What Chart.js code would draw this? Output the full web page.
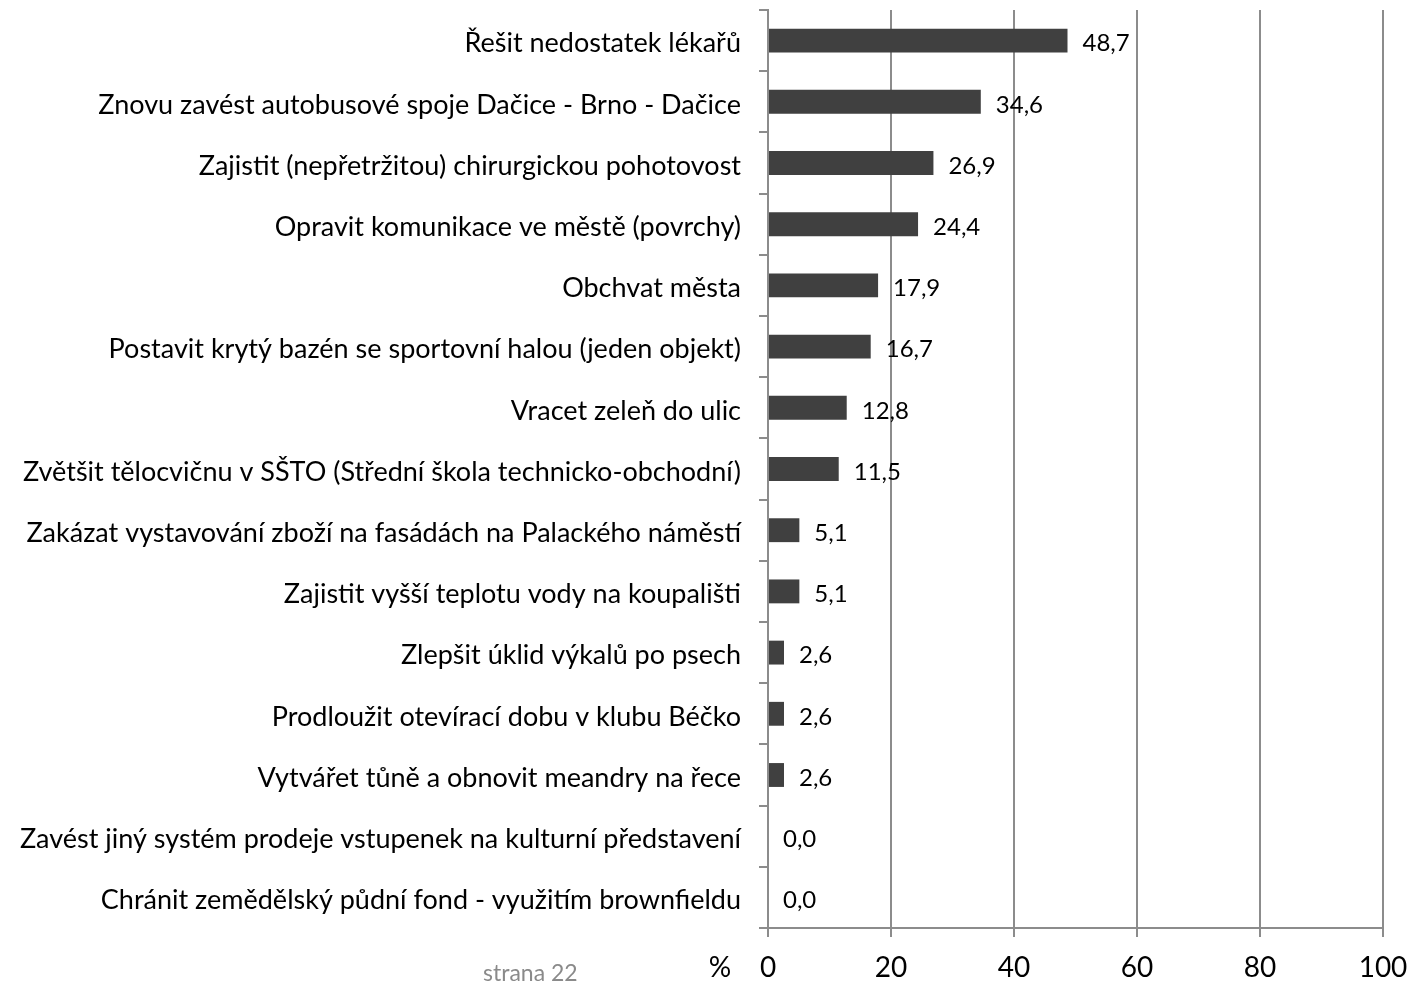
<!DOCTYPE html>
<html>
<head>
<meta charset="utf-8">
<script src="https://cdn.jsdelivr.net/npm/chart.js@4"></script>
<style>
  html, body { margin: 0; padding: 0; background: #fff; }
  #wrap { position: relative; width: 1408px; height: 988px; }
  #page { position: absolute; left: 483px; top: 958px; font: 23px Lato, sans-serif; color: #8a8a8a; }
</style>
</head>
<body>
<div id="wrap">
  <canvas id="chart" width="1408" height="988"></canvas>
  <div id="page">strana 22</div>
</div>
<script>
// categories and values (%)
const labels = [
  "Řešit nedostatek lékařů",
  "Znovu zavést autobusové spoje Dačice - Brno - Dačice",
  "Zajistit (nepřetržitou) chirurgickou pohotovost",
  "Opravit komunikace ve městě (povrchy)",
  "Obchvat města",
  "Postavit krytý bazén se sportovní halou (jeden objekt)",
  "Vracet zeleň do ulic",
  "Zvětšit tělocvičnu v SŠTO (Střední škola technicko-obchodní)",
  "Zakázat vystavování zboží na fasádách na Palackého náměstí",
  "Zajistit vyšší teplotu vody na koupališti",
  "Zlepšit úklid výkalů po psech",
  "Prodloužit otevírací dobu v klubu Béčko",
  "Vytvářet tůně a obnovit meandry na řece",
  "Zavést jiný systém prodeje vstupenek na kulturní představení",
  "Chránit zemědělský půdní fond - využitím brownfieldu"
];
const values = [48.7, 34.6, 26.9, 24.4, 17.9, 16.7, 12.8, 11.5, 5.1, 5.1, 2.6, 2.6, 2.6, 0.0, 0.0];
const xTicks = [0, 20, 40, 60, 80, 100];

// value labels next to bars
const valueLabels = {
  id: 'valueLabels',
  afterDatasetsDraw(chart) {
    const ctx = chart.ctx;
    const meta = chart.getDatasetMeta(0);
    ctx.save();
    ctx.font = '24px Lato, sans-serif';
    ctx.fillStyle = '#000';
    ctx.textBaseline = 'middle';
    meta.data.forEach((bar, i) => {
      ctx.fillText(values[i].toFixed(1).replace('.', ','), bar.x + 15, bar.y + 3);
    });
    // the "%" unit left of the x ticks
    ctx.font = '28px Lato, sans-serif';
    ctx.textAlign = 'center';
    ctx.fillText('%', 720, 968);
    ctx.restore();
  }
};

new Chart(document.getElementById('chart'), {
  type: 'bar',
  data: {
    labels: labels,
    datasets: [{
      data: values,
      backgroundColor: '#404040',
      barPercentage: 0.39,
      categoryPercentage: 1.0
    }]
  },
  options: {
    indexAxis: 'y',
    responsive: false,
    animation: false,
    layout: { padding: { top: 10, right: 25, left: 0, bottom: 0 } },
    plugins: { legend: { display: false }, tooltip: { enabled: false } },
    scales: {
      x: {
        min: 0,
        max: 100,
        afterBuildTicks: s => { s.ticks = xTicks.map(v => ({ value: v })); },
        afterFit: s => { s.height = 60; s.paddingLeft = 0; s.paddingRight = 0; },
        grid: { color: '#8c8c8c', lineWidth: 2, tickLength: 9 },
        border: { color: '#8c8c8c', width: 2 },
        ticks: { color: '#000', font: { family: 'Lato', size: 28 }, padding: 14 }
      },
      y: {
        afterFit: s => { s.width = 768; s.paddingTop = 0; s.paddingBottom = 0; },
        grid: { drawOnChartArea: false, color: '#8c8c8c', lineWidth: 2, tickLength: 9, offset: true },
        border: { color: '#8c8c8c', width: 2 },
        ticks: { color: '#000', font: { family: 'Lato', size: 27 }, padding: 18, labelOffset: 3 }
      }
    }
  },
  plugins: [valueLabels]
});
</script>
</body>
</html>
